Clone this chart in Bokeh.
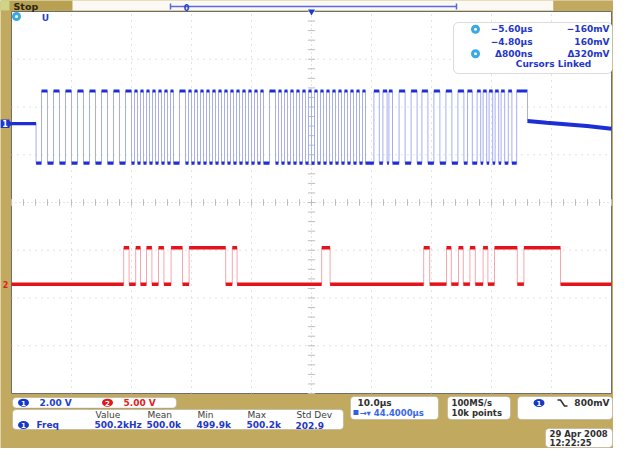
import numpy as np
from bokeh.plotting import figure
from bokeh.models import Range1d, BoxAnnotation
from bokeh.core.properties import value
from bokeh.embed import file_html
from bokeh.resources import INLINE

# ---------------- data ----------------
time_per_div_us = 10.0
ch1_volts_per_div = 2.0
ch2_volts_per_div = 5.0
ch1_marker_div = 1.65      # ground marker of channel 1, in divisions above centre
ch2_marker_div = -1.71     # ground marker of channel 2

ch1_idle_v = 0.0
ch1_high_v = 1.37
ch1_low_v = -1.65
ch1_start_edge_us = -45.9          # idle -> low
ch1_edges_us = [                    # alternating rise / fall
    -45.0, -44.0, -43.0, -42.0, -41.0, -40.0, -39.0, -38.0, -37.0, -36.0, -35.0, -34.0,
    -33.0, -32.0, -31.0, -30.0,
    -29.5, -29.0, -28.5, -28.0, -27.5, -27.0, -26.5, -26.0, -25.5, -25.0, -24.5, -24.0,
    -23.5, -23.0,
    -22.0, -21.0,
    -20.5, -20.0, -19.5, -19.0, -18.5, -18.0, -17.5, -17.0, -16.5, -16.0, -15.5, -15.0,
    -14.5, -14.0, -13.5, -13.0, -12.5, -12.0, -11.5, -11.0, -10.5, -10.0, -9.5, -9.0,
    -8.5, -8.0,
    -7.0, -6.0,
    -5.5, -5.0, -4.5, -4.0, -3.5, -3.0, -2.5, -2.0, -1.5, -1.0, -0.5, 0.0, 0.5, 1.0,
    1.5, 2.0, 2.5, 3.0, 3.5, 4.0, 4.5, 5.0, 5.5, 6.0, 6.5, 7.0, 7.5, 8.0, 8.5, 9.0,
    10.4, 11.3, 11.9, 12.6, 12.9, 13.5, 14.6, 15.6, 16.6, 17.6, 18.4, 19.4, 20.4, 21.4,
    22.4, 23.4, 24.4, 25.4, 26.0, 26.8, 27.6, 28.2, 28.6, 29.2, 29.6, 30.2, 30.6, 31.2,
    31.6, 32.2, 32.8, 33.4, 34.2,
]
ch1_end_edge_us = 36.0              # high -> idle
ch1_tail_t_us = [36.0, 39.2, 45.9, 50.0]
ch1_tail_v = [0.11, 0.04, -0.10, -0.21]

ch2_low_v = 0.0
ch2_high_v = 3.8
ch2_rise_us = [-31.3, -29.3, -27.5, -25.5, -23.4, -20.4, -13.2, 1.7, 18.7, 22.5, 24.5, 26.4, 28.6, 30.5, 35.4]
ch2_fall_us = [-30.4, -28.5, -26.6, -24.6, -21.5, -14.3, -12.4, 3.1, 19.7, 23.3, 25.3, 27.3, 29.4, 34.3, 41.5]

cursor_rows = [("\u22125.60\u00b5s", "\u2212160mV"), ("\u22124.80\u00b5s", "160mV"), ("\u0394800ns", "\u0394320mV")]
meas_headers = ["Value", "Mean", "Min", "Max", "Std Dev"]
meas_values = ["500.2kHz", "500.0k", "499.9k", "500.2k", "202.9"]

# ---------------- layout ----------------
W, H = 613, 448
FR_L, FR_R, FR_T, FR_B = 11, 611, 11, 393
GOLD = "#C1A95F"
BLUE_T = "#1E2ED6"
BLUE_E = "#A6AEF0"
RED_T = "#E5121C"
RED_E = "#F6A6AC"
TXT_BLUE = "#2436C8"
FONT = value("DejaVu Sans")

p = figure(width=W, height=H, x_range=Range1d(0, W), y_range=Range1d(H, 0),
           x_axis_type=None, y_axis_type=None, output_backend="svg",
           toolbar_location=None, min_border=0, background_fill_color=GOLD,
           border_fill_color=GOLD, outline_line_color=None)
p.grid.visible = False

px_us = (FR_R - FR_L) / (10 * time_per_div_us)
px_div = (FR_B - FR_T) / 8.0
cy = (FR_T + FR_B) / 2.0
div_top = cy / px_div
div_bot = -(H - cy) / px_div
p.extra_x_ranges = {"us": Range1d(-5 * time_per_div_us - FR_L / px_us,
                                  5 * time_per_div_us + (W - FR_R) / px_us)}
p.extra_y_ranges = {
    "div": Range1d(div_bot, div_top),
    "ch1": Range1d((div_bot - ch1_marker_div) * ch1_volts_per_div, (div_top - ch1_marker_div) * ch1_volts_per_div),
    "ch2": Range1d((div_bot - ch2_marker_div) * ch2_volts_per_div, (div_top - ch2_marker_div) * ch2_volts_per_div),
}


def top(r):
    r.level = "overlay"
    return r


def txt(x, y, s, color="#303030", align="left", bold=True, size="9px", rname="default"):
    top(p.text(x=[x], y=[y], text=[s], text_font=FONT, text_font_style="bold" if bold else "normal",
               text_font_size=size, text_color=color, text_align=align, text_baseline="middle",
               y_range_name=rname))


# ---------------- top bar ----------------
p.quad(left=0, right=72, top=0, bottom=10, fill_color="#B9A152", line_color=None)
p.quad(left=0, right=9, top=0, bottom=10, fill_color="#CFD486", line_color=None)
txt(13, 5.5, "Stop", color="#2E2610", size="9.5px")
p.quad(left=72, right=553, top=0, bottom=10, fill_color="#FAF9F3", line_color=None)
p.segment(x0=[170], y0=[6], x1=[456], y1=[6], line_color="#5A6AD8", line_width=1.5)
p.segment(x0=[170, 456], y0=[3, 3], x1=[170, 456], y1=[9, 9], line_color="#5A6AD8", line_width=1.5)
txt(186, 6.5, "0", color="#1A3BD0", align="center", size="8px")
p.quad(left=553, right=W, top=0, bottom=10, fill_color=GOLD, line_color=None)

# ---------------- graticule ----------------
p.quad(left=FR_L, right=FR_R, top=FR_T, bottom=FR_B, fill_color="white",
       line_color="#6E6E6E", line_width=1)
gx = [-40, -30, -20, -10, 10, 20, 30, 40]
gy = [-3, -2, -1, 1, 2, 3]
p.segment(x0=gx, y0=[-4] * len(gx), x1=gx, y1=[4] * len(gx), x_range_name="us",
          y_range_name="div", line_color="#C4C4C4", line_dash="1 5")
p.segment(x0=[-50] * len(gy), y0=gy, x1=[50] * len(gy), y1=gy, x_range_name="us",
          y_range_name="div", line_color="#C4C4C4", line_dash="1 5")
p.segment(x0=[0, -50], y0=[-4, 0], x1=[0, 50], y1=[4, 0], x_range_name="us",
          y_range_name="div", line_color="#C8C8C8", line_dash="1 3")
ty = np.arange(-4, 4.001, 0.2)
p.segment(x0=np.full(len(ty), -0.6), y0=ty, x1=np.full(len(ty), 0.6), y1=ty,
          x_range_name="us", y_range_name="div", line_color="#BDBDBD")
tx = np.arange(-50, 50.001, 2.0)
p.segment(x0=tx, y0=np.full(len(tx), -0.07), x1=tx, y1=np.full(len(tx), 0.07),
          x_range_name="us", y_range_name="div", line_color="#BDBDBD")


def draw_steps(times, levels, rname, dark, light, width):
    hx0, hx1, hy = [], [], []
    vx, vy0, vy1 = [], [], []
    for i in range(len(levels)):
        hx0.append(times[i]); hx1.append(times[i + 1]); hy.append(levels[i])
        if i > 0:
            vx.append(times[i]); vy0.append(levels[i - 1]); vy1.append(levels[i])
    p.segment(x0=vx, y0=vy0, x1=vx, y1=vy1, x_range_name="us", y_range_name=rname,
              line_color=light, line_width=1)
    p.segment(x0=hx0, y0=hy, x1=hx1, y1=hy, x_range_name="us", y_range_name=rname,
              line_color=dark, line_width=width)


# channel 1 (blue)
t1 = [-50.0, ch1_start_edge_us] + ch1_edges_us + [ch1_end_edge_us]
lv1 = [ch1_idle_v, ch1_low_v]
for k in range(len(ch1_edges_us)):
    lv1.append(ch1_high_v if k % 2 == 0 else ch1_low_v)
draw_steps(t1, lv1, "ch1", BLUE_T, BLUE_E, 3.2)
p.segment(x0=[ch1_end_edge_us], y0=[lv1[-1]], x1=[ch1_end_edge_us], y1=[ch1_tail_v[0]],
          x_range_name="us", y_range_name="ch1", line_color=BLUE_E, line_width=1)
p.line(x=ch1_tail_t_us, y=ch1_tail_v, x_range_name="us", y_range_name="ch1",
       line_color=BLUE_T, line_width=4)

# channel 2 (red)
t2 = [-50.0]
lv2 = [ch2_low_v]
for r, f in zip(ch2_rise_us, ch2_fall_us):
    t2 += [r, f]
    lv2 += [ch2_high_v, ch2_low_v]
t2.append(50.0)
draw_steps(t2, lv2, "ch2", RED_T, RED_E, 3.5)

# channel ground markers
p.quad(left=[0], right=[9], top=[0.18], bottom=[-0.18], y_range_name="ch1",
       fill_color="#1A36D0", line_color=None)
p.scatter(x=[10], y=[0], y_range_name="ch1", marker="triangle", angle=-np.pi / 2,
          size=6, fill_color="#1A36D0", line_color=None)
txt(4.5, 0, "1", color="white", align="center", size="8px", rname="ch1")
txt(5, 0, "2", color="#E02020", align="center", size="8px", rname="ch2")

# marks at top of graticule
p.scatter(x=[0], y=[4], x_range_name="us", y_range_name="div", marker="inverted_triangle",
          size=7, fill_color="#1A3BD0", line_color=None)
p.scatter(x=[16], y=[16], marker="circle", size=9, fill_color="#39A9E6", line_color=None)
p.scatter(x=[16], y=[16], marker="circle", size=3, fill_color="white", line_color=None)
txt(45, 17, "U", color="#2040C8", align="center", size="9px")

# ---------------- cursor readout ----------------
p.add_layout(BoxAnnotation(left=453, right=612, top=22, bottom=73, fill_color="white",
                           fill_alpha=1, line_color="#8C8C8C", line_width=1, border_radius=5))
row_y = [28.7, 41.8, 53.3]
for (tt, vv), yy in zip(cursor_rows, row_y):
    txt(532, yy, tt, color=TXT_BLUE, align="right", size="9px")
    txt(609, yy, vv, color=TXT_BLUE, align="right", size="9px")
top(p.scatter(x=[475, 475], y=[row_y[0], row_y[2]], marker="circle", size=9, fill_color="#39A9E6", line_color=None))
top(p.scatter(x=[475, 475], y=[row_y[0], row_y[2]], marker="circle", size=3, fill_color="white", line_color=None))
txt(553, 63.9, "Cursors Linked", color=TXT_BLUE, align="center", size="9px")


# ---------------- bottom panel ----------------
def box(l, r, t, b):
    p.add_layout(BoxAnnotation(left=l, right=r, top=t, bottom=b, fill_color="white", fill_alpha=1,
                               line_color="#8C8C8C", line_width=1, border_radius=4))


def badge(x, y, s, color):
    top(p.ellipse(x=[x], y=[y], width=11, height=8, fill_color=color, line_color=None))
    txt(x, y + 0.3, s, color="white", align="center", size="7px")


box(12, 176, 397, 407.5)
badge(23, 402.2, "1", "#1638C8")
txt(39, 402.2, "2.00 V", color="#2040D0")
badge(107, 402.2, "2", "#E01818")
txt(123, 402.2, "5.00 V", color="#E02020")

box(12, 343, 409, 429)
hx = [95, 147, 197, 247, 296]
for xx, s in zip(hx, meas_headers):
    txt(xx, 414.3, s, color="#3C3C3C", bold=False)
badge(23, 424.5, "1", "#1638C8")
txt(36, 424.5, "Freq", color=TXT_BLUE)
for xx, s in zip(hx, meas_values):
    txt(xx - 1, 424.5, s, color=TXT_BLUE)

box(350, 438, 396, 419)
txt(357, 402.5, "10.0\u00b5s")
top(p.quad(left=[353], right=[358], top=[409.5], bottom=[414.5], fill_color="#3060E8", line_color=None))
txt(359, 412, "\u2192\u25be 44.4000\u00b5s", color="#3868E8", size="8.5px")

box(447, 510, 396, 419)
txt(451, 402.5, "100MS/s", size="8.5px")
txt(451, 412, "10k points", size="8.5px")

box(517, 612, 396, 419)
badge(538.5, 402.5, "1", "#1638C8")
top(p.line(x=[557, 560, 564, 567], y=[399.5, 399.5, 405.5, 405.5], line_color="#303030", line_width=1.5))
txt(609, 402.5, "800mV", align="right")

box(545, 612, 428, 447)
txt(549, 433.5, "29 Apr 2008", size="8.5px")
txt(549, 442, "12:22:25", size="8.5px")

open("out.html", "w").write(file_html(p, INLINE))
